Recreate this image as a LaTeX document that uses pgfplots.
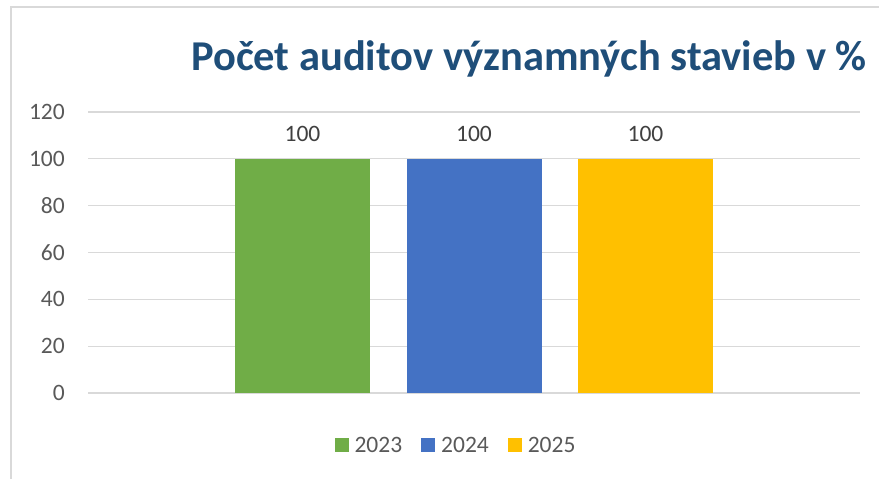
\documentclass[border=0pt]{standalone}
\usepackage{pgfplots}
\pgfplotsset{compat=1.18}
\usepackage{fontspec}
\setmainfont{Carlito}
\definecolor{cgreen}{HTML}{70AD47}
\definecolor{cblue}{HTML}{4472C4}
\definecolor{cyellow}{HTML}{FFC000}
\definecolor{ctitle}{HTML}{1F4E79}
\definecolor{cgrid}{HTML}{D9D9D9}
\definecolor{ctick}{HTML}{595959}
\definecolor{clabel}{HTML}{404040}
\begin{document}
\begin{tikzpicture}
\useasboundingbox[fill=white] (0bp,0bp) rectangle (879bp,-479bp);
\draw[cgrid, line width=1.5bp] (11bp,-479bp) -- (11bp,-7bp) -- (879bp,-7bp);
\node[anchor=base, text=ctitle, font=\fontsize{42.5bp}{46bp}\selectfont\bfseries, inner sep=0pt] at (529bp,-70bp) {Počet auditov významných stavieb v \%};
\begin{axis}[
  at={(88bp,-393bp)}, anchor=south west,
  width=772bp, height=281bp, scale only axis,
  xmin=-2.2507, xmax=2.2507,
  ymin=0, ymax=120,
  ytick={0,20,40,60,80,100,120},
  xtick=\empty,
  axis line style={draw=none},
  major tick length=0pt,
  ymajorgrids,
  grid style={cgrid, line width=1.3bp},
  /pgf/number format/assume math mode=true,
  yticklabel style={font=\fontsize{23.5bp}{28bp}\selectfont, text=ctick, inner sep=0pt, xshift=-23bp},
  ybar, bar width=135bp, bar shift=0pt,
  nodes near coords,
  every node near coord/.append style={font=\fontsize{23.5bp}{28bp}\selectfont, text=clabel, anchor=base, inner sep=0pt, yshift=17bp},
  legend columns=3,
  legend style={draw=none, fill=none, at={(0.4754,-0.185)}, anchor=center,
    font=\fontsize{23.5bp}{28bp}\selectfont, text=ctick,
    /tikz/every even column/.append style={column sep=19bp},
    /tikz/every odd column/.append style={column sep=0bp},
    nodes={inner sep=0pt, text depth=0pt}},
  legend image code/.code={\fill[#1] (0bp,-7bp) rectangle (14bp,7bp);},
]
\addplot[fill=cgreen, draw=none] coordinates {(-1,100)};
\addlegendentry{\hspace{6bp}2023}
\addplot[fill=cblue, draw=none] coordinates {(0,100)};
\addlegendentry{\hspace{6bp}2024}
\addplot[fill=cyellow, draw=none] coordinates {(1,100)};
\addlegendentry{\hspace{6bp}2025}
\end{axis}
\end{tikzpicture}
\end{document}
